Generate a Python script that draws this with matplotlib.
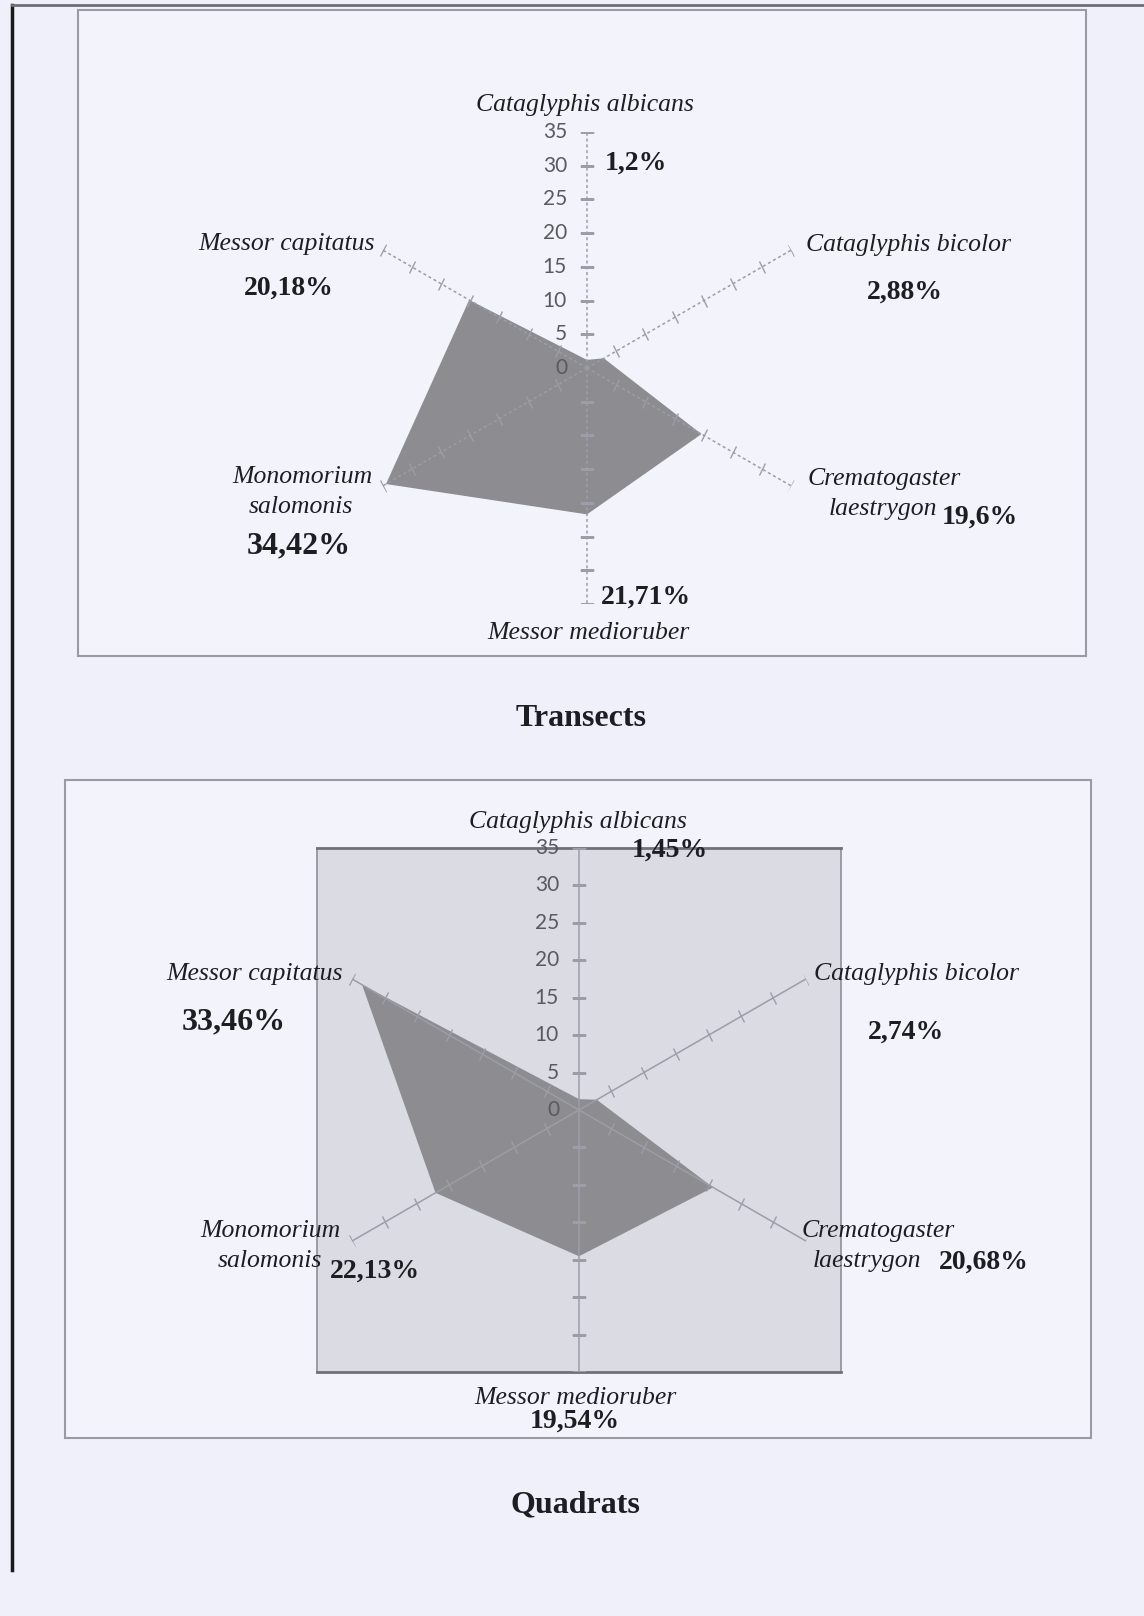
import matplotlib
matplotlib.use("Agg")
import matplotlib.pyplot as plt
import numpy as np
from matplotlib.markers import MarkerStyle
from matplotlib.transforms import Affine2D, offset_copy
from matplotlib.patches import Rectangle

# ---- data -------------------------------------------------------------
species = ["Cataglyphis albicans", "Cataglyphis bicolor", "Crematogaster laestrygon",
           "Messor medioruber", "Monomorium salomonis", "Messor capitatus"]
transects = [1.2, 2.88, 19.6, 21.71, 34.42, 20.18]
quadrats = [1.45, 2.74, 20.68, 19.54, 22.13, 33.46]
transect_labels = ["1,2%", "2,88%", "19,6%", "21,71%", "34,42%", "20,18%"]
quadrat_labels = ["1,45%", "2,74%", "20,68%", "19,54%", "22,13%", "33,46%"]
radial_ticks = [0, 5, 10, 15, 20, 25, 30, 35]
r_max = 35

W, H = 1144, 1616
PAGE = "#eff0f9"
FILL = "#8c8c91"
SPOKE = "#9c9da6"
FRAME = "#9a9aa4"
SERIF = "Liberation Serif"
SANS = "Lato"

fig = plt.figure(figsize=(W / 100, H / 100), dpi=100, facecolor=PAGE)


def px_axes(z):
    a = fig.add_axes([0, 0, 1, 1], zorder=z)
    a.set_xlim(0, W)
    a.set_ylim(H, 0)
    a.axis("off")
    a.patch.set_alpha(0)
    return a


def rect_of(cx, cy, R):
    return [(cx - R) / W, 1 - (cy + R) / H, 2 * R / W, 2 * R / H]


# ---- page and chart frames -------------------------------------------
bg = px_axes(0)
bg.plot([12, 12], [5, 1570], color="#1a1a1a", lw=2.5)
bg.plot([12, W], [5, 5], color="#6d6e78", lw=2.0)
bg.add_patch(Rectangle((78, 10), 1008, 646, facecolor="#f3f4fb",
                       edgecolor=FRAME, lw=1.5))
bg.add_patch(Rectangle((65, 780), 1026, 658, facecolor="#f2f3fb",
                       edgecolor=FRAME, lw=1.5))

# ---- radar drawing ----------------------------------------------------
angles = np.linspace(0, 2 * np.pi, len(species), endpoint=False)


def radar(cx, cy, R, values, dashed, plot_area=None):
    if plot_area is not None:
        pa = fig.add_axes(rect_of(cx, cy, R), zorder=1)
        pa.set_facecolor(plot_area)
        pa.set_xticks([])
        pa.set_yticks([])
        for side, s in pa.spines.items():
            if side in ("top", "bottom"):
                s.set_color("#6f7078")
                s.set_linewidth(2)
            else:
                s.set_color("#8e8f98")
                s.set_linewidth(1.2)
    ax = fig.add_axes(rect_of(cx, cy, R), projection="polar", zorder=2)
    ax.set_theta_zero_location("N")
    ax.set_theta_direction(-1)
    ax.set_ylim(0, r_max)
    ax.set_axis_off()
    th = np.append(angles, angles[0])
    vv = np.append(values, values[0])
    ax.fill(th, vv, color=FILL, lw=0, zorder=2)
    ls = (0, (2.0, 1.8)) if dashed else "-"
    for a in angles:
        ax.plot([a, a], [0, r_max], color=SPOKE, lw=1.1, ls=ls, zorder=3)
        mk = MarkerStyle("_", transform=Affine2D().rotate_deg(-np.degrees(a)))
        ax.plot([a] * (len(radial_ticks) - 1), radial_ticks[1:], ls="none",
                marker=mk, ms=10, mew=1.0, color=SPOKE, zorder=3)
    tr = offset_copy(ax.transData, fig=fig, x=-20, y=0, units="dots")
    for v in radial_ticks:
        ax.text(0, v, str(v), transform=tr, ha="right", va="center",
                family=SANS, fontsize=15, color="#5a5a5e", zorder=4)
    return ax


radar(587, 368, 236, transects, dashed=True)
radar(579, 1110, 262, quadrats, dashed=False, plot_area="#dadbe3")

# ---- labels -----------------------------------------------------------
top = px_axes(5)
it = dict(family=SERIF, style="italic", fontsize=18.5, color="#1e1e22", va="center")
bd = dict(family=SERIF, fontweight="bold", fontsize=20, color="#1e1e22", va="center")
big = {**bd, "fontsize": 23}

# Transects
top.text(585, 105, species[0], ha="center", **it)
top.text(375, 244, species[5], ha="right", **it)
top.text(806, 245, species[1], ha="left", **it)
top.text(302, 477, "Monomorium", ha="center", **it)
top.text(301, 507, "salomonis", ha="center", **it)
top.text(884, 479, "Crematogaster", ha="center", **it)
top.text(883, 509, "laestrygon", ha="center", **it)
top.text(588, 633, species[3], ha="center", **it)
top.text(605, 163, transect_labels[0], ha="left", **bd)
top.text(905, 292, transect_labels[1], ha="center", **bd)
top.text(980, 517, transect_labels[2], ha="center", **bd)
top.text(601, 597, transect_labels[3], ha="left", **bd)
top.text(299, 546, transect_labels[4], ha="center", **big)
top.text(289, 288, transect_labels[5], ha="center", **bd)
top.text(581, 718, "Transects", ha="center", **big)

# Quadrats
top.text(578, 822, species[0], ha="center", **it)
top.text(343, 974, species[5], ha="right", **it)
top.text(814, 974, species[1], ha="left", **it)
top.text(270, 1231, "Monomorium", ha="center", **it)
top.text(270, 1261, "salomonis", ha="center", **it)
top.text(878, 1231, "Crematogaster", ha="center", **it)
top.text(867, 1261, "laestrygon", ha="center", **it)
top.text(575, 1398, species[3], ha="center", **it)
top.text(670, 850, quadrat_labels[0], ha="center", **bd)
top.text(906, 1032, quadrat_labels[1], ha="center", **bd)
top.text(984, 1262, quadrat_labels[2], ha="center", **bd)
top.text(575, 1421, quadrat_labels[3], ha="center", **bd)
top.text(375, 1271, quadrat_labels[4], ha="center", **bd)
top.text(234, 1022, quadrat_labels[5], ha="center", **big)
top.text(575, 1505, "Quadrats", ha="center", **big)

fig.savefig("out.png", dpi=100, facecolor=PAGE)
